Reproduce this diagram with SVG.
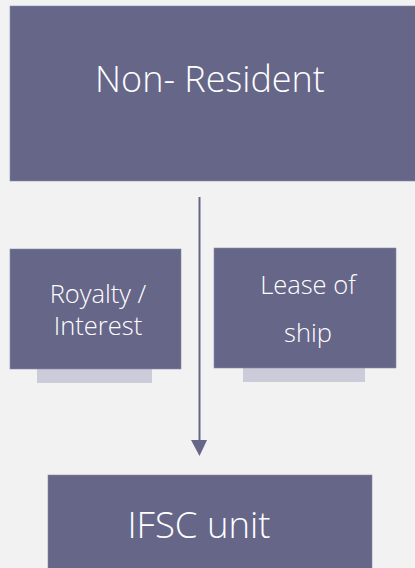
<svg xmlns="http://www.w3.org/2000/svg" width="415" height="568" viewBox="0 0 415 568">
<style>
.box{fill:#666689;stroke:#8a8aa8;stroke-width:0.6}
.shadow{fill:#cbcbd9}
.t{fill:#ffffff;font-family:"Open Sans","Liberation Sans",sans-serif;font-weight:300;text-anchor:middle}
</style>
<rect width="415" height="568" fill="#f2f2f2"/>
<g id="connectors">
<line x1="199.5" y1="197" x2="199.5" y2="441" stroke="#666689" stroke-width="2"/>
<path d="M191,440 L207,440 L199.5,456 Z" fill="#666689"/>
</g>
<g id="non-resident">
<rect class="box" x="10" y="6" width="410" height="175"/>
<text class="t" x="210" y="92" font-size="36">Non- Resident</text>
</g>
<g id="royalty">
<rect class="shadow" x="37" y="369" width="115" height="14"/>
<rect class="box" x="10" y="249" width="171" height="120"/>
<text class="t" x="98" y="303" font-size="25.5">Royalty /</text>
<text class="t" x="98" y="335" font-size="25.5">Interest</text>
</g>
<g id="lease">
<rect class="shadow" x="243" y="368" width="122" height="14"/>
<rect class="box" x="214" y="248" width="182" height="120"/>
<text class="t" x="308" y="294" font-size="25.5">Lease of</text>
<text class="t" x="308" y="342" font-size="25.5">ship</text>
</g>
<g id="ifsc">
<rect class="box" x="48" y="475" width="324" height="100"/>
<text class="t" x="199" y="538" font-size="36.5">IFSC unit</text>
</g>
</svg>
